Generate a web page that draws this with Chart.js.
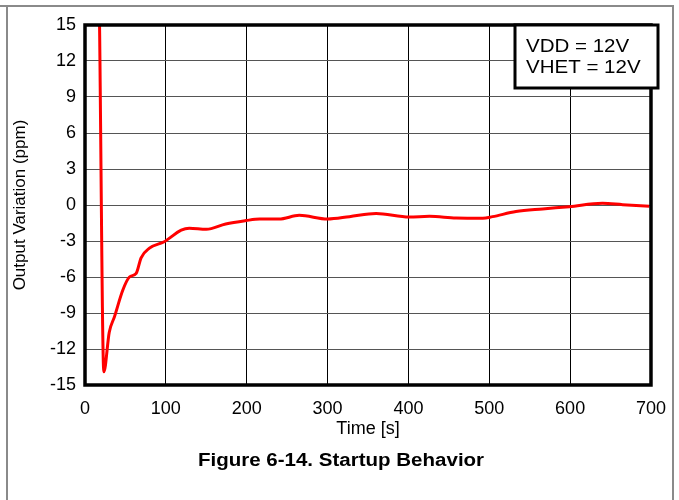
<!DOCTYPE html>
<html>
<head>
<meta charset="utf-8">
<script src="https://cdn.jsdelivr.net/npm/chart.js@4/dist/chart.umd.min.js"></script>
<style>
  html, body { margin: 0; padding: 0; background: #fff; }
  #wrap { width: 679px; height: 500px; position: relative; }
</style>
</head>
<body>
<div id="wrap"><canvas id="chart" width="679" height="500"></canvas></div>
<script>
// Startup behavior trace
const timeSec = [18, 23.3, 30, 36.5, 46.7, 55, 63.3, 69.4, 79.7, 98, 119, 129, 150, 174, 199,
  216, 240, 265, 300, 327, 360, 401, 426, 459, 492, 504, 533, 566, 599, 640, 665, 698];
const variationPpm = [15, -13.9, -10.6, -9.3, -7.1, -6.0, -5.7, -4.4, -3.6, -3.06, -2.1, -1.94, -2.03, -1.58, -1.3,
  -1.17, -1.17, -0.86, -1.17, -0.97, -0.7, -1.0, -0.94, -1.08, -1.1, -0.97, -0.55, -0.33, -0.14, 0.14, 0.03, -0.1];
const legendLines = ['VDD = 12V', 'VHET = 12V'];
const caption = 'Figure 6-14. Startup Behavior';

const points = timeSec.map(function (t, i) { return { x: t, y: variationPpm[i] }; });
const FONT = "'Liberation Sans', Arial, sans-serif";

/* ── frame, plot border, note box and caption ── */
const decorations = {
  id: 'decorations',
  beforeDraw: function (chart) {
    const ctx = chart.ctx;
    ctx.save();
    ctx.strokeStyle = '#8a8a8a';
    ctx.lineWidth = 2;
    ctx.beginPath();
    ctx.moveTo(0, 6); ctx.lineTo(674, 6);
    ctx.moveTo(7, 6); ctx.lineTo(7, 500);
    ctx.moveTo(673, 6); ctx.lineTo(673, 500);
    ctx.stroke();
    ctx.restore();
  },
  afterDraw: function (chart) {
    const ctx = chart.ctx;
    const a = chart.chartArea;
    ctx.save();
    ctx.strokeStyle = '#000';
    ctx.lineWidth = 3.5;
    ctx.strokeRect(a.left, a.top, a.right - a.left, a.bottom - a.top);

    // note box
    ctx.fillStyle = '#fff';
    ctx.fillRect(515, 25, 143, 63);
    ctx.lineWidth = 3;
    ctx.strokeRect(515, 25, 143, 63);
    ctx.fillStyle = '#000';
    ctx.font = '19px ' + FONT;
    ctx.textBaseline = 'middle';
    ctx.textAlign = 'left';
    legendLines.forEach(function (txt, i) {
      ctx.save();
      ctx.translate(526, 47 + i * 21);
      ctx.scale(1.08, 1);
      ctx.fillText(txt, 0, 0);
      ctx.restore();
    });

    // caption
    ctx.font = 'bold 18px ' + FONT;
    ctx.textAlign = 'center';
    ctx.save();
    ctx.translate(341, 461);
    ctx.scale(1.14, 1);
    ctx.fillText(caption, 0, 0);
    ctx.restore();
    ctx.restore();
  }
};

new Chart(document.getElementById('chart'), {
  type: 'line',
  data: {
    datasets: [{
      data: points,
      borderColor: '#ff0000',
      borderWidth: 3,
      pointRadius: 0,
      cubicInterpolationMode: 'monotone',
      fill: false
    }]
  },
  options: {
    responsive: false,
    animation: false,
    layout: { padding: { left: 0, top: 25, right: 27, bottom: 58 } },
    plugins: { legend: { display: false }, tooltip: { enabled: false } },
    scales: {
      x: {
        type: 'linear',
        min: 0,
        max: 700,
        ticks: { stepSize: 100, color: '#000', font: { family: FONT, size: 18 }, padding: 13, maxRotation: 0 },
        grid: { color: '#000', lineWidth: 1, drawTicks: false },
        border: { display: false },
        title: { display: true, text: 'Time [s]', color: '#000', font: { family: FONT, size: 18 }, padding: { top: 0, bottom: 2 } },
        afterFit: function (scale) { scale.height = 57; }
      },
      y: {
        min: -15,
        max: 15,
        ticks: { stepSize: 3, color: '#000', font: { family: FONT, size: 18 }, padding: 9 },
        grid: { color: '#555', lineWidth: 1, drawTicks: false },
        border: { display: false },
        title: { display: true, text: 'Output Variation (ppm)', color: '#000', font: { family: FONT, size: 17 }, padding: { top: 10, bottom: 0 } },
        afterFit: function (scale) { scale.width = 85; }
      }
    }
  },
  plugins: [decorations]
});
</script>
</body>
</html>
